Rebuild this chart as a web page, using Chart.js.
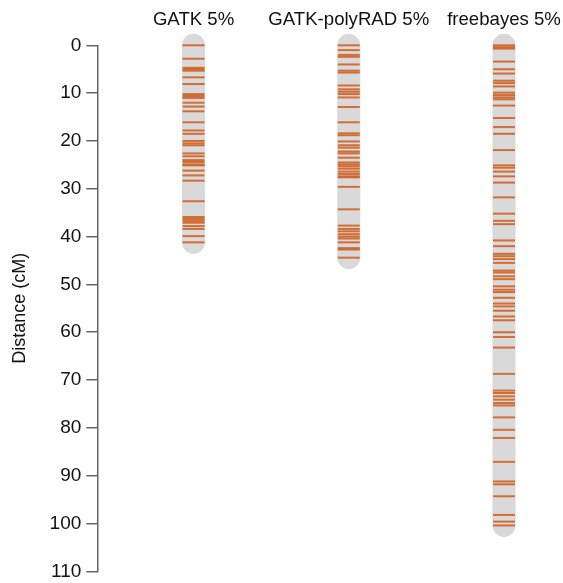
<!DOCTYPE html>
<html>
<head>
<meta charset="utf-8">
<script src="https://cdn.jsdelivr.net/npm/chart.js@4"></script>
<style>
  html, body { margin: 0; padding: 0; background: #fff; overflow: hidden; }
  #wrap { width: 563px; height: 583px; }
</style>
</head>
<body>
<div id="wrap"><canvas id="mapChart"></canvas></div>
<script>
    // marker positions in cM
    const mapNames = ['GATK 5%', 'GATK-polyRAD 5%', 'freebayes 5%'];

    const gatkPos = [0, 2.8, 4.7, 5.0, 5.3, 6.7, 8.1, 10.2, 10.6, 11.0, 12.0, 12.8, 13.8,
        16.1, 17.8, 18.5, 20.0, 20.5, 20.9, 22.6, 23.2, 24.0, 24.4, 24.9, 25.1, 26.2, 27.2, 28.3,
        32.6, 35.9, 36.3, 36.7, 37.1, 37.8, 38.4, 39.9, 41.2];

    const polyradPos = [0, 1.0, 2.0, 2.4, 4.0, 5.3, 5.7, 8.4, 9.2, 9.7, 10.2, 10.9, 12.9,
        16.1, 18.4, 18.8, 20.1, 20.9, 21.4, 22.2, 22.6, 23.5, 24.5, 24.9, 25.3, 25.8, 26.4,
        26.9, 27.4, 27.6, 29.6, 34.3, 37.7, 38.4, 38.9, 39.5, 40.0, 40.4, 41.2, 42.4, 42.7, 44.4];

    const freebayesPos = [0, 0.4, 0.7, 3.4, 5.0, 5.9, 7.4, 7.9, 8.6, 9.9, 10.4, 10.9, 11.3,
        12.6, 15.2, 17.1, 18.5, 21.9, 25.1, 25.6, 26.4, 27.4, 28.7, 31.8, 35.2, 36.7, 37.4,
        40.8, 42.0, 43.6, 44.1, 44.7, 45.5, 47.1, 47.5, 48.3, 48.9, 50.4, 51.1, 51.6, 52.8,
        54.0, 54.6, 55.5, 56.7, 57.5, 60.0, 61.0, 63.2, 68.7, 72.2, 72.7, 73.4, 74.1, 74.8,
        75.3, 77.8, 80.4, 82.1, 87.1, 91.2, 91.8, 94.3, 98.2, 99.6, 100.4];

    const yTicks = [0, 10, 20, 30, 40, 50, 60, 70, 80, 90, 100, 110];

    const allMaps = [gatkPos, polyradPos, freebayesPos];
    const grey = '#d9d9d9';
    const orange = 'rgba(208,98,34,0.9)';
    const font = 'Liberation Sans, Arial, sans-serif';

    const datasets = [];
    allMaps.forEach((pos, i) => {
        // marker ticks
        datasets.push({
            type: 'scatter',
            data: pos.map(p => ({ x: i + 1, y: p })),
            pointStyle: 'line',
            pointRadius: 11,
            pointBorderWidth: 2,
            pointBorderColor: orange,
            pointBackgroundColor: orange,
            clip: false,
            order: 1
        });
        // chromosome body, round caps add the ends
        datasets.push({
            type: 'line',
            data: [{ x: i + 1, y: Math.min(...pos) }, { x: i + 1, y: Math.max(...pos) }],
            borderColor: grey,
            borderWidth: 23,
            borderCapStyle: 'round',
            pointRadius: 0,
            clip: false,
            order: 3
        });
    });

    new Chart(document.getElementById('mapChart').getContext('2d'), {
        type: 'scatter',
        data: { datasets: datasets },
        options: {
            responsive: true,
            maintainAspectRatio: false,
            animation: false,
            events: [],
            layout: { autoPadding: false, padding: { top: 3, right: 0, bottom: 11, left: 9 } },
            plugins: { legend: { display: false }, tooltip: { enabled: false } },
            scales: {
                x: {
                    type: 'linear',
                    position: 'top',
                    min: 0.38,
                    max: 3.38,
                    afterBuildTicks: axis => { axis.ticks = [1, 2, 3].map(v => ({ value: v })); },
                    // the titles fit on their own, no extra side padding
                    afterFit: axis => { axis.paddingLeft = 0; axis.paddingRight = 0; },
                    ticks: {
                        callback: v => mapNames[v - 1],
                        font: { family: font, size: 18.6 },
                        color: '#111',
                        maxRotation: 0,
                        autoSkip: false,
                        padding: 6
                    },
                    grid: { display: false },
                    border: { display: false }
                },
                y: {
                    type: 'linear',
                    reverse: true,
                    min: 0,
                    max: 110,
                    afterBuildTicks: axis => { axis.ticks = yTicks.map(v => ({ value: v })); },
                    title: {
                        display: true,
                        text: 'Distance (cM)',
                        font: { family: font, size: 18 },
                        color: '#111',
                        padding: { top: 0, bottom: 14 }
                    },
                    ticks: {
                        font: { family: font, size: 19, lineHeight: 0.7 },
                        color: '#111',
                        padding: 5
                    },
                    grid: {
                        drawOnChartArea: false,
                        drawTicks: true,
                        tickLength: 11,
                        color: '#666',
                        lineWidth: 1.5
                    },
                    border: { display: true, color: '#666', width: 1.5 }
                }
            }
        }
    });
</script>
</body>
</html>
